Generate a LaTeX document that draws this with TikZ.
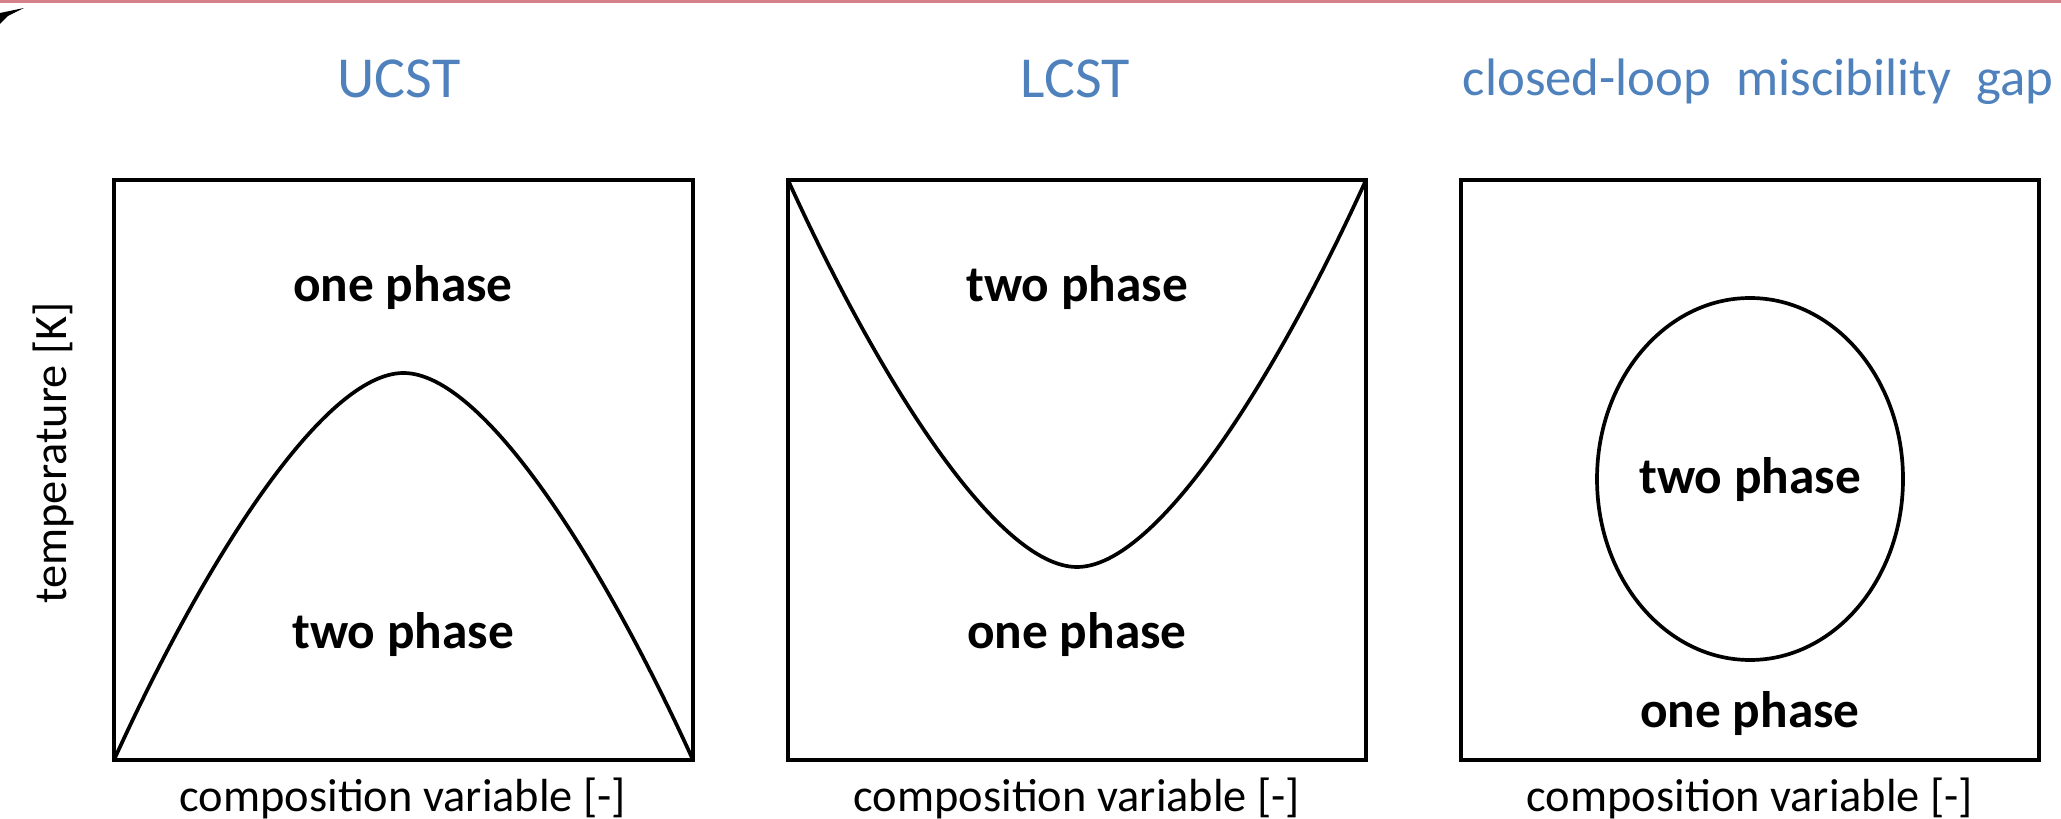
\documentclass[tikz,border=0pt]{standalone}
\usepackage{fontspec}
\setmainfont{Carlito}
\usepackage{xcolor}
\usetikzlibrary{positioning}
\definecolor{titleblue}{RGB}{79,129,189}
\definecolor{edgered}{RGB}{214,128,138}

\begin{document}
\begin{tikzpicture}[x=0.01cm, y=-0.01cm,
  frame/.style={line width=1.3pt},
  curve/.style={line width=1.05pt, line join=round},
  title/.style={titleblue, inner sep=0pt, anchor=base, font=\fontsize{16.5pt}{19pt}\selectfont},
  phase/.style={inner sep=0pt, anchor=base, font=\fontsize{14.6pt}{17pt}\selectfont\bfseries},
  axis/.style={inner sep=0pt, anchor=base, font=\fontsize{13.2pt}{16pt}\selectfont}]
  \useasboundingbox (0,0) rectangle (2061,819);
  % top edge of the slide
  \fill[edgered] (0,0) rectangle (2061,3);
  \fill (0,13) -- (24,8) -- (8,16) -- (0,24) -- cycle;

  % Titles
  \node[title] (ucst) at (399,98) {UCST};
  \node[title] (lcst) at (1075,98) {LCST};
  \node[title, font=\fontsize{15pt}{18pt}\selectfont] (loop) at (1758,96)
    {closed-loop\hspace{0.25em} miscibility\hspace{0.25em} gap};

  % UCST
  \draw[frame] (114,180) rectangle (693,760);
  \draw[curve] (114,760) .. controls (204,562) and (323.5,373) .. (403.5,373)
    .. controls (483.5,373) and (603,562) .. (693,760);
  \node[phase] (u1) at (403,302) {one phase};
  \node[phase] (u2) at (403,648) {two phase};

  % LCST
  \draw[frame] (788,180) rectangle (1366,760);
  \draw[curve] (788,180) .. controls (878,378) and (997,567) .. (1077,567)
    .. controls (1157,567) and (1276,378) .. (1366,180);
  \node[phase] (l1) at (1077,302) {two phase};
  \node[phase] (l2) at (1077,648) {one phase};

  % closed loop
  \draw[frame] (1461,180) rectangle (2039,760);
  \draw[curve] (1750,479) ellipse [x radius=153, y radius=181];
  \node[phase] (c1) at (1750,494) {two phase};
  \node[phase] (c2) at (1750,727) {one phase};

  % axis labels
  \node[axis, rotate=90] (temp) at (67,453) {temperature [K]};
  \node[axis] (comp1) at (403,811) {composition variable [-]};
  \node[axis] (comp2) at (1077,811) {composition variable [-]};
  \node[axis] (comp3) at (1750,811) {composition variable [-]};
\end{tikzpicture}
\end{document}
